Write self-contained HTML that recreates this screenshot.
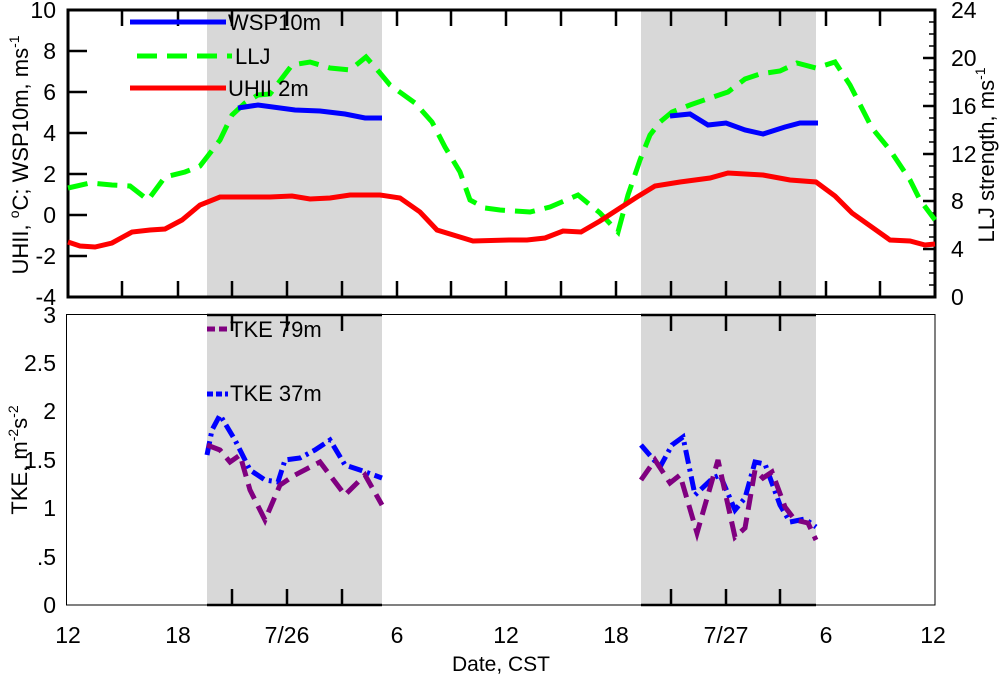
<!DOCTYPE html>
<html><head><style>body{margin:0;background:#fff}svg{display:block}text{font-family:"Liberation Sans",sans-serif;fill:#000}</style></head><body>
<svg width="1000" height="677" viewBox="0 0 1000 677" xmlns="http://www.w3.org/2000/svg">
<rect x="207" y="10" width="175" height="287" fill="#d8d8d8"/>
<rect x="641" y="10" width="175" height="287" fill="#d8d8d8"/>
<rect x="207" y="315" width="175" height="290" fill="#d8d8d8"/>
<rect x="641" y="315" width="175" height="290" fill="#d8d8d8"/>
<rect x="68" y="10" width="867" height="287" fill="none" stroke="#000" stroke-width="3"/>
<g stroke="#000" stroke-width="2.5">
<path d="M122,10v16M178,10v16M232,10v16M287,10v16M342,10v16M397,10v16M451,10v16M506,10v16M561,10v16M616,10v16M671,10v16M726,10v16M780,10v16M826,10v16M880,10v16"/>
<path d="M122,297v-16M178,297v-16M232,297v-16M287,297v-16M342,297v-16M397,297v-16M451,297v-16M506,297v-16M561,297v-16M616,297v-16M671,297v-16M726,297v-16M780,297v-16M826,297v-16M880,297v-16"/>
<path d="M68,51h19M68,92h19M68,133h19M68,174h19M68,215h19M68,256h19"/>
<path d="M935,58h-12M935,106h-12M935,154h-12M935,201h-12M935,249h-12"/>
</g>
<g stroke="#000" stroke-width="1.5">
<path d="M935,22h-6M935,34h-6M935,46h-6M935,70h-6M935,82h-6M935,94h-6M935,118h-6M935,130h-6M935,142h-6M935,166h-6M935,177h-6M935,189h-6M935,213h-6M935,225h-6M935,237h-6M935,261h-6M935,273h-6M935,285h-6"/>
</g>
<rect x="66.5" y="314.5" width="868.5" height="290.5" fill="none" stroke="#000" stroke-width="1"/>
<g stroke="#000" stroke-width="2.5">
<path d="M207,315h175M641,315h175M207,605h175M641,605h175"/>
<path d="M232,315v16M287,315v16M342,315v16M671,315v16M726,315v16M780,315v16"/>
<path d="M232,605v-16M287,605v-16M342,605v-16M671,605v-16M726,605v-16M780,605v-16"/>
</g>
<polyline fill="none" stroke="#00ff00" stroke-width="5" stroke-dasharray="20,10" points="68,188 90,183 112,185 130,186 148,200 165,177 185,172 200,166 207,157 220,140 232,115 245,103 258,95 270,94 292,65 310,62 330,68 350,70 366,57 380,73 390,85 415,103 432,122 445,147 460,172 470,200 485,208 500,210 530,212 550,207 578,195 600,213 618,232 628,195 640,160 650,135 660,122 672,112 690,105 710,98 728,92 745,79 760,74 780,71 797,63 816,68 835,62 850,85 872,128 890,150 910,180 920,200 935,220"/>
<polyline fill="none" stroke="#ff0000" stroke-width="5" points="68,242 80,246 95,247 112,243 132,232 150,230 165,229 182,220 200,205 220,197 240,197 270,197 292,196 310,199 330,198 350,195 370,195 380,195 400,198 420,212 437,230 473,241 510,240 527,240 545,238 563,231 581,232 600,221 620,208 637,197 655,186 680,182 710,178 728,173 763,175 790,180 816,182 835,196 852,213 890,240 910,241 925,245 935,244"/>
<polyline fill="none" stroke="#0000ff" stroke-width="5" points="238,108 258,105 295,110 320,111 345,114 365,118 382,118"/>
<polyline fill="none" stroke="#0000ff" stroke-width="5" points="670,116 690,114 708,125 726,123 745,130 763,134 785,127 800,123 818,123"/>
<polyline fill="none" stroke="#0000ff" stroke-width="5" stroke-dasharray="14,5,3,5" points="207,455 212,430 220,415 235,440 250,470 265,480 278,482 285,460 300,458 315,450 330,440 345,465 360,470 382,478"/>
<polyline fill="none" stroke="#800080" stroke-width="5" stroke-dasharray="16,8" points="207,445 220,450 230,462 240,455 250,490 265,520 280,485 295,475 320,462 345,495 365,475 382,505"/>
<polyline fill="none" stroke="#0000ff" stroke-width="5" stroke-dasharray="14,5,3,5" points="641,445 660,467 672,445 683,437 695,495 713,478 720,475 735,510 745,498 755,462 765,464 780,505 790,522 805,519 816,527"/>
<polyline fill="none" stroke="#800080" stroke-width="5" stroke-dasharray="16,8" points="641,480 655,460 670,483 680,475 697,533 718,460 735,537 745,528 755,470 763,478 772,472 785,507 795,520 808,523 816,540"/>
<line x1="130" y1="22" x2="226" y2="22" stroke="#0000ff" stroke-width="5"/>
<text x="228" y="30" font-size="22">WSP10m</text>
<line x1="137" y1="56" x2="232" y2="56" stroke="#00ff00" stroke-width="5" stroke-dasharray="20,10"/>
<text x="235" y="64" font-size="22">LLJ</text>
<line x1="130" y1="88" x2="226" y2="88" stroke="#ff0000" stroke-width="5"/>
<text x="228" y="96" font-size="22">UHII 2m</text>
<line x1="207" y1="329" x2="228" y2="329" stroke="#800080" stroke-width="5" stroke-dasharray="8,4"/>
<text x="230" y="337" font-size="22">TKE 79m</text>
<line x1="207" y1="394" x2="228" y2="394" stroke="#0000ff" stroke-width="5" stroke-dasharray="6,3"/>
<text x="230" y="401" font-size="22">TKE 37m</text>
<g font-size="23" text-anchor="end">
<text x="56" y="18">10</text><text x="56" y="59">8</text><text x="56" y="100">6</text><text x="56" y="141">4</text><text x="56" y="182">2</text><text x="56" y="223">0</text><text x="56" y="264">-2</text><text x="56" y="305">-4</text>
<text x="56" y="323">3</text><text x="56" y="371">2.5</text><text x="56" y="419">2</text><text x="56" y="468">1.5</text><text x="56" y="516">1</text><text x="56" y="565">.5</text><text x="56" y="613">0</text>
</g>
<g font-size="23">
<text x="951" y="18">24</text><text x="951" y="66">20</text><text x="951" y="114">16</text><text x="951" y="162">12</text><text x="951" y="209">8</text><text x="951" y="257">4</text><text x="951" y="305">0</text>
</g>
<g font-size="23" text-anchor="middle">
<text x="68" y="643">12</text><text x="178" y="643">18</text><text x="287" y="643">7/26</text><text x="397" y="643">6</text><text x="506" y="643">12</text><text x="616" y="643">18</text><text x="726" y="643">7/27</text><text x="826" y="643">6</text><text x="933" y="643">12</text>
</g>
<text x="501" y="671" font-size="21" text-anchor="middle">Date, CST</text>
<text transform="translate(28,155) rotate(-90)" font-size="22" text-anchor="middle">UHII, <tspan font-size="14" dy="-9">o</tspan><tspan dy="9">C; WSP10m, ms</tspan><tspan font-size="14" dy="-9">-1</tspan></text>
<text transform="translate(994,155) rotate(-90)" font-size="22" text-anchor="middle">LLJ strength, ms<tspan font-size="14" dy="-9">-1</tspan></text>
<text transform="translate(27,460) rotate(-90)" font-size="22" text-anchor="middle">TKE, m<tspan font-size="14" dy="-9">-2</tspan><tspan dy="9">s</tspan><tspan font-size="14" dy="-9">-2</tspan></text>
</svg>
</body></html>
